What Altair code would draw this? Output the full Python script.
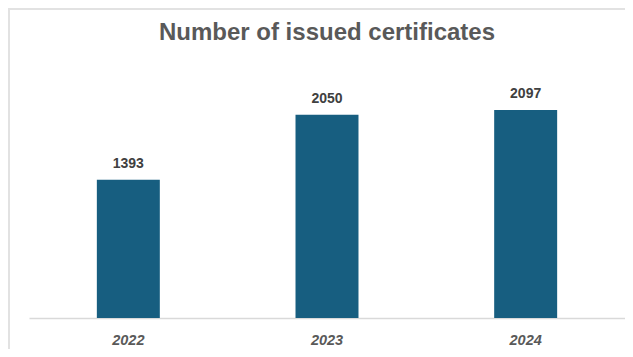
import altair as alt
import pandas as pd

years = ["2022", "2023", "2024"]
certificates = [1393, 2050, 2097]
title_text = ["Number of issued certificates"]

df = pd.DataFrame({"year": years, "count": certificates})

W, H = 596, 248
FONT = "Liberation Sans"

base = alt.Chart(df).encode(
    x=alt.X("year:N", sort=years,
            scale=alt.Scale(paddingInner=0.683, paddingOuter=0.3415),
            axis=alt.Axis(title=None, labelAngle=0, ticks=False, domainColor="#d9d9d9",
                          domainWidth=1.5, labelFont=FONT, labelFontSize=14.5,
                          labelFontWeight="bold", labelFontStyle="italic",
                          labelColor="#595959", labelPadding=15, grid=False)),
    y=alt.Y("count:Q", scale=alt.Scale(domain=[0, 2500]), axis=None),
)

bars = base.mark_bar(color="#175e80")
labels = base.mark_text(dy=-16, font=FONT, fontSize=14, fontWeight="bold",
                        color="#404040").encode(text="count:Q")

title = alt.Chart(pd.DataFrame({"t": title_text})).mark_text(
    font=FONT, fontSize=24, fontWeight="bold", color="#595959",
    baseline="middle", align="center").encode(
    text="t:N", x=alt.value(W / 2), y=alt.value(-37))

frame_color = "#e2e2e2"
top_rule = alt.Chart(df).mark_rule(color=frame_color, strokeWidth=2, clip=False).encode(
    x=alt.value(-21), x2=alt.value(620), y=alt.value(-61))
left_rule = alt.Chart(df).mark_rule(color=frame_color, strokeWidth=2, clip=False).encode(
    x=alt.value(-20), y=alt.value(-62), y2=alt.value(290))

chart = alt.layer(top_rule, left_rule, bars, labels, title).properties(
    width=W, height=H,
    background="white",
    autosize=alt.AutoSizeParams(type="none"),
    padding={"left": 21, "top": 62, "right": 0, "bottom": 31},
).configure_view(stroke=None)

chart.save("out.html", embed_options={"renderer": "svg", "actions": False})
